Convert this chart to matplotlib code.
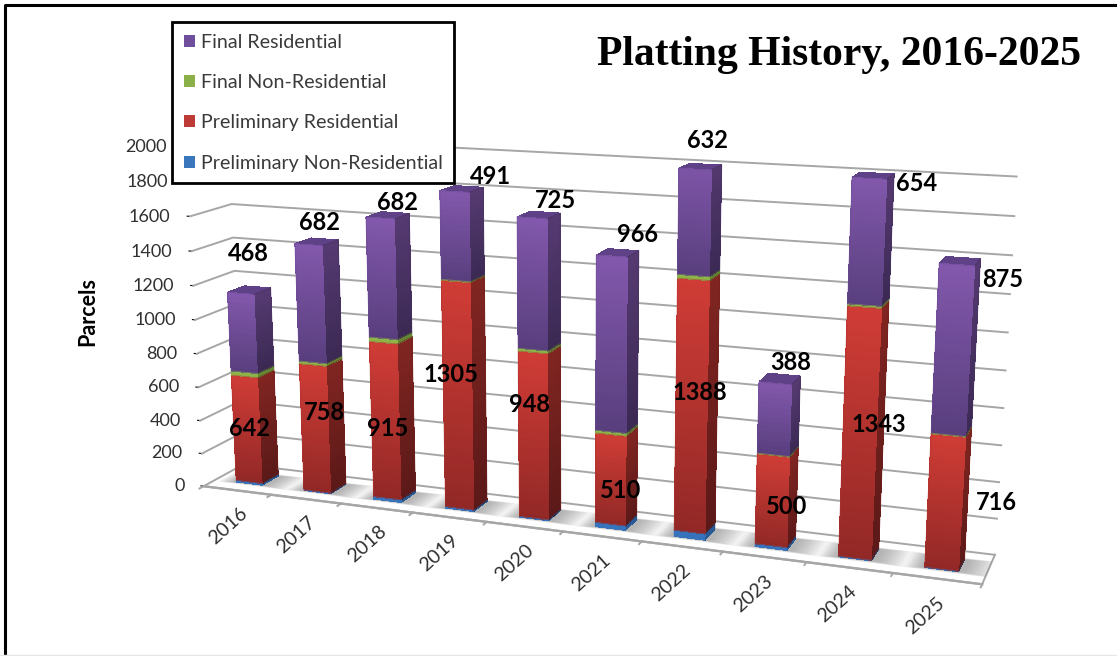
import numpy as np
import matplotlib
matplotlib.use("Agg")
import matplotlib.pyplot as plt
from matplotlib.patches import Patch
from mpl_toolkits.mplot3d.art3d import Poly3DCollection

years = ["2016", "2017", "2018", "2019", "2020", "2021", "2022", "2023", "2024", "2025"]
prelim_nonres = [10, 3, 15, 8, 5, 25, 35, 15, 3, 2]
prelim_res = [642, 758, 915, 1305, 948, 510, 1388, 500, 1343, 716]
final_nonres = [25, 15, 25, 5, 15, 15, 20, 3, 10, 3]
final_res = [468, 682, 682, 491, 725, 966, 632, 388, 654, 875]
series_names = ["Preliminary Non-Residential", "Preliminary Residential", "Final Non-Residential", "Final Residential"]
z_ticks = list(range(0, 2001, 200))
Z_MAX = 2000

plt.rcParams['font.family'] = ['Lato', 'DejaVu Sans']
W, H = 1117, 656
fig = plt.figure(figsize=(W / 100, H / 100), dpi=100, facecolor='white')

# camera fitted to the picture
S = 4790.44; TX = 577.66; TY = 343.735
L = S * 0.185
ax = fig.add_axes([(TX - 0.095 * S) / W, (H - TY - 0.095 * S) / H, L / W, L / H],
                  projection='3d', computed_zorder=False)
ax.set_xlim(0, 10); ax.set_ylim(0, 1); ax.set_zlim(0, Z_MAX)
ax.view_init(elev=13.77, azim=-69.57)
ax.set_proj_type('persp', focal_length=0.384)
ax.set_box_aspect((1, 0.1003, 0.4438))
ax.patch.set_alpha(0)
ax.grid(False)
for a in (ax.xaxis, ax.yaxis, ax.zaxis):
    a.set_pane_color((1, 1, 1, 0))
    a.pane.set_edgecolor((1, 1, 1, 0))
GRID = '#a6a6a6'
TXT = '#303030'
ax.yaxis.line.set_color((0, 0, 0, 0))
ax.set_yticks([])
ax.xaxis.line.set_color(GRID); ax.zaxis.line.set_color(GRID)
ax.xaxis.line.set_linewidth(1.6); ax.zaxis.line.set_linewidth(1.6)
ax.zaxis._axinfo['juggled'] = (1, 0, 2)
ax.zaxis._axinfo['tick']['inward_factor'] = 0
ax.zaxis._axinfo['tick']['outward_factor'] = 0.05
ax.zaxis._axinfo['tick']['color'] = GRID
ax.set_zticks(z_ticks)
ax.set_zticklabels([str(t) for t in z_ticks], fontsize=13, color=TXT, ha='right', va='center_baseline')
ax.tick_params(axis='z', pad=1)
ax.set_xticks(np.arange(10) + 0.38)
ax.set_xticklabels(years, fontsize=14, color=TXT, rotation=42)
ax.tick_params(axis='x', pad=6)
ax.xaxis._axinfo['tick']['inward_factor'] = 0
ax.xaxis._axinfo['tick']['outward_factor'] = 0

# walls and floor
for t in z_ticks:
    ax.plot([0, 0, 10], [0, 1, 1], [t, t, t], color=GRID, lw=1.4, zorder=1, clip_on=False)
ax.plot([10, 10], [0, 1], [0, 0], color=GRID, lw=1.4, zorder=1, clip_on=False)
for i in range(11):
    ax.plot([i, i], [0, -0.1], [0, 0], color=GRID, lw=1.4, zorder=1, clip_on=False)

BAR_W = 0.385
Y0, Y1 = 0.30, 0.72
tones = {
    0: dict(top=(62, 125, 200), bot=(45, 105, 175), side=(40, 90, 150)),
    1: dict(top=(208, 60, 54), bot=(145, 40, 38), side=(0.62, 0.60)),
    2: dict(top=(155, 195, 85), bot=(125, 165, 60), side=(100, 135, 50)),
    3: dict(top=(130, 88, 172), bot=(88, 62, 125), side=(0.66, 0.66)),
}
LID = (95 / 255, 65 / 255, 135 / 255)

def mix(a, b, t):
    return tuple((a[k] + (b[k] - a[k]) * t) / 255 for k in range(3))

stack = [prelim_nonres, prelim_res, final_nonres, final_res]

def draw_bar(i):
    x0, x1 = i + 0.5 - BAR_W / 2, i + 0.5 + BAR_W / 2
    # soft floor shadow, kept on the floor
    for k in range(12):
        g = (12 - k) * 0.03
        sx0, sx1 = x0 - 0.02 - g * 0.6, min(x1 + 0.04 + g * 1.0, 10)
        sy0, sy1 = max(Y0 - g * 0.18, 0.03), min(Y1 + g * 0.15, 1)
        shadow = [[(sx0, sy0, 0), (sx1, sy0, 0), (sx1, sy1, 0), (sx0, sy1, 0)]]
        pc = Poly3DCollection(shadow, facecolor=(0.42, 0.42, 0.42, 0.05), edgecolor='none', zorder=2)
        ax.add_collection3d(pc)
        pc.set_clip_on(False)
    verts, cols = [], []
    outline, outline_cols = [], []
    base = 0.0
    for s, values in enumerate(stack):
        v = values[i]
        tone = tones[s]
        n = max(1, int(v / 25))
        for j in range(n):
            a, b = min(base + v * j / n, Z_MAX), min(base + v * (j + 1) / n, Z_MAX)
            if b <= a:
                continue
            c = mix(tone['bot'], tone['top'], (j + 0.5) / n)
            verts.append([(x0, Y0, a), (x1, Y0, a), (x1, Y0, b), (x0, Y0, b)])
            cols.append(c)
            verts.append([(x1, Y0, a), (x1, Y1, a), (x1, Y1, b), (x1, Y0, b)])
            if isinstance(tone['side'][0], float):
                cols.append(tuple(q * tone['side'][0] for q in c))
            else:
                cols.append(tuple(q / 255 for q in tone['side']))
        base += v
    top = min(base, Z_MAX)
    verts.append([(x0, Y0, top), (x1, Y0, top), (x1, Y1, top), (x0, Y1, top)])
    cols.append(LID)
    pc = Poly3DCollection(verts, facecolors=cols, edgecolors='none', linewidths=0, zorder=3 + i)
    pc.set_antialiased(False)
    ax.add_collection3d(pc)
    # smooth the slice edges with a soft outline per face and series
    seg_base = 0.0
    for s, values in enumerate(stack):
        v = values[i]
        a, b = min(seg_base, Z_MAX), min(seg_base + v, Z_MAX)
        seg_base += v
        if b <= a:
            continue
        c = mix(tones[s]['bot'], tones[s]['top'], 0.5)
        edge = pc_edge = [(x0, Y0, a), (x0, Y0, b), (x1, Y0, b), (x1, Y1, b), (x1, Y1, a), (x1, Y0, a)]
        e = np.array(edge)
        ax.plot(e[:3, 0], e[:3, 1], e[:3, 2], color=c, lw=0.7, alpha=0.55, zorder=3 + i)
        ax.plot(e[[2, 3, 4], 0], e[[2, 3, 4], 1], e[[2, 3, 4], 2],
                color=tuple(q * 0.66 for q in c), lw=0.7, alpha=0.55, zorder=3 + i)

for i in range(10):
    draw_bar(i)

def px_text(x, y, s, **kw):
    fig.text(x / W, 1 - y / H, s, ha='center', va='center', **kw)

upper_xy = [(248, 253), (319, 223), (397, 203), (491, 176), (555, 200), (637, 235), (707, 140), (791, 363), (917, 183), (1003, 280)]
lower_xy = [(250, 428), (324, 412), (388, 428), (451, 375), (530, 405), (621, 490), (700, 392), (787, 507), (879, 425), (996, 502)]
for v, p in zip(final_res, upper_xy):
    px_text(p[0], p[1], str(v), fontsize=17, fontweight='bold', color='black', zorder=10)
for v, p in zip(prelim_res, lower_xy):
    px_text(p[0], p[1], str(v), fontsize=17, fontweight='bold', color='black', zorder=10)

px_text(88, 312, "Parcels", fontsize=15.5, fontweight='bold', color='black', rotation=90)
fig.text(1081 / W, 1 - 55 / H, "Platting History, 2016-2025", ha='right', va='center',
         family=['Liberation Serif'], fontsize=30, fontweight='bold', color='black')

# legend
sw = {"Final Residential": '#6f4f9c', "Final Non-Residential": '#8cb048',
      "Preliminary Residential": '#be3a36', "Preliminary Non-Residential": '#3a76bb'}
handles = [Patch(facecolor=sw[n], edgecolor='none', label=n) for n in series_names[::-1]]
leg = fig.legend(handles=handles, loc='upper left', bbox_to_anchor=(172 / W, 1 - 22 / H),
                 borderaxespad=0, fontsize=14.1, labelcolor='#3a3a3a', frameon=True, fancybox=False,
                 edgecolor='black', facecolor='white', framealpha=1, handlelength=0.57, handleheight=0.57,
                 handletextpad=0.3, labelspacing=1.19, borderpad=0.6)
leg.get_frame().set_linewidth(2)
leg.set_zorder(20)

# outer frame
fig.add_artist(plt.Line2D([5 / W, 5 / W, 1], [0, 1 - 5 / H, 1 - 5 / H], color='black', lw=2.2))
fig.add_artist(plt.Line2D([0, 1], [1.5 / H, 1.5 / H], color='#e6e6e6', lw=1))

fig.savefig('out.png', dpi=100)
